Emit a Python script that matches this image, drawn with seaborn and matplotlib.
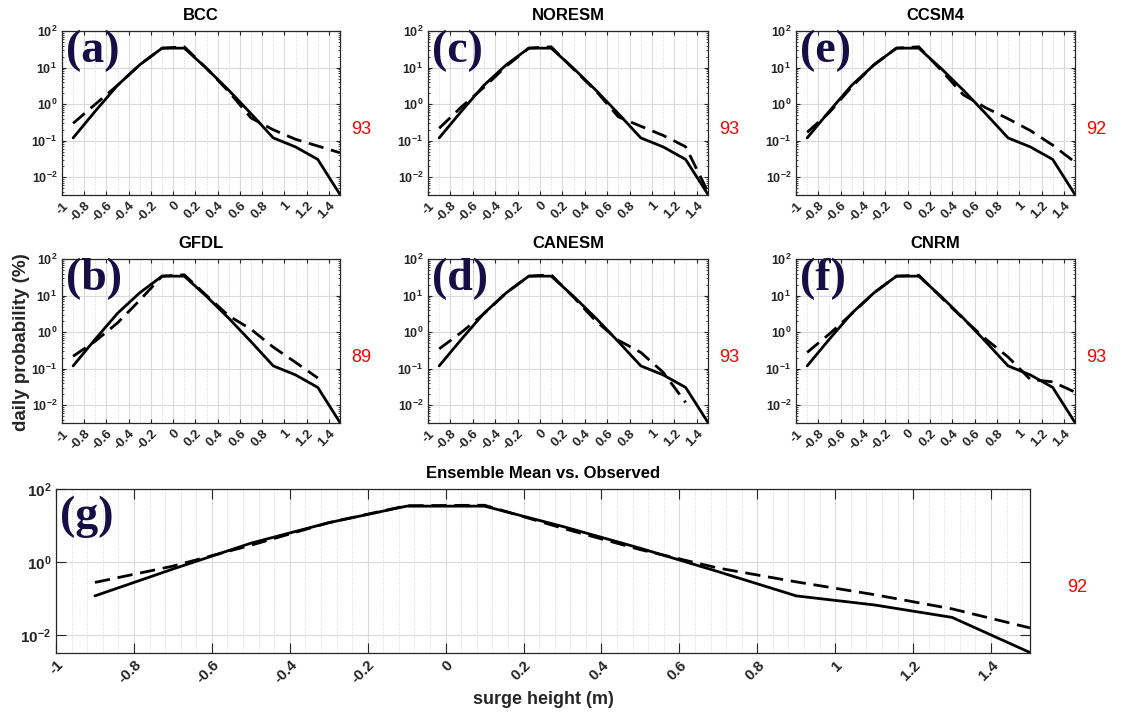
import numpy as np
import pandas as pd
import matplotlib
matplotlib.use("Agg")
import matplotlib.pyplot as plt
import seaborn as sns
from matplotlib.ticker import FixedLocator, MultipleLocator, LogLocator, NullFormatter

# ---------------- data ----------------
surge = [-0.9, -0.7, -0.5, -0.3, -0.1, 0.1, 0.3, 0.5, 0.7, 0.9, 1.1, 1.3, 1.5]
observed = [0.12, 0.65, 3.3, 12, 34, 34, 9.5, 2.4, 0.55, 0.12, 0.068, 0.031, 0.0034]
bcc = [0.30, 1.0, 3.3, 12, 34, 37, 9.5, 2.2, 0.42, 0.20, 0.11, 0.072, 0.047]
gfdl = [0.22, 0.57, 1.8, 7.5, 34, 37, 10, 2.8, 1.2, 0.39, 0.15, 0.056, np.nan]
noresm = [0.22, 0.85, 2.9, 11, 34, 37, 9.0, 2.3, 0.45, 0.25, 0.14, 0.069, 0.004]
canesm = [0.35, 1.0, 3.2, 12, 34, 37, 9.0, 2.0, 0.6, 0.28, 0.08, 0.012, np.nan]
ccsm4 = [0.17, 0.6, 3.0, 12, 34, 37, 8.5, 1.8, 0.8, 0.40, 0.19, 0.076, 0.026]
cnrm = [0.28, 0.9, 3.2, 12, 34, 36, 9.0, 2.3, 0.65, 0.21, 0.051, 0.044, 0.023]
ensemble = [0.28, 0.78, 2.9, 12, 35, 36, 8.5, 2.2, 0.69, 0.29, 0.13, 0.053, 0.016]

panel_titles = ["BCC", "GFDL", "NORESM", "CANESM", "CCSM4", "CNRM"]
panel_letters = ["(a)", "(b)", "(c)", "(d)", "(e)", "(f)"]
panel_models = [bcc, gfdl, noresm, canesm, ccsm4, cnrm]
panel_scores = ["93", "89", "93", "93", "92", "93"]
ens_title = "Ensemble Mean vs. Observed"
ens_letter = "(g)"
ens_score = "92"

x_ticks = [-1, -0.8, -0.6, -0.4, -0.2, 0, 0.2, 0.4, 0.6, 0.8, 1, 1.2, 1.4]
x_ticklabels = ["-1", "-0.8", "-0.6", "-0.4", "-0.2", "0", "0.2", "0.4", "0.6", "0.8", "1", "1.2", "1.4"]
y_ticks_small = [1e-2, 1e-1, 1e0, 1e1, 1e2]
y_ticklabels_small = [r"$\mathbf{10^{-2}}$", r"$\mathbf{10^{-1}}$", r"$\mathbf{10^{0}}$",
                      r"$\mathbf{10^{1}}$", r"$\mathbf{10^{2}}$"]
y_ticks_big = [1e-2, 1e0, 1e2]
y_ticklabels_big = [r"$\mathbf{10^{-2}}$", r"$\mathbf{10^{0}}$", r"$\mathbf{10^{2}}$"]

# ---------------- style ----------------
sns.set_style("ticks")
plt.rcParams["font.family"] = ["Liberation Sans", "DejaVu Sans"]
plt.rcParams["mathtext.fontset"] = "custom"
plt.rcParams["mathtext.rm"] = "Liberation Sans"
plt.rcParams["mathtext.bf"] = "Liberation Sans:bold"
plt.rcParams["mathtext.it"] = "Liberation Sans:italic"

FG = "#262626"
NAVY = "#150f45"

fig = plt.figure(figsize=(11.43, 7.17), dpi=100)

W, H = 1143.0, 717.0
col_left = [62, 428, 796]
col_width = [278, 280, 279]
row_top = [31, 259]
ax_h = 164


def style_axes(ax, big=False):
    ax.set_yscale("log")
    ax.set_xlim(-1, 1.5)
    ax.set_ylim(0.0033, 100)
    for s in ax.spines.values():
        s.set_color(FG)
        s.set_linewidth(0.9)
    ax.xaxis.set_major_locator(FixedLocator(x_ticks))
    ax.set_xticklabels(x_ticklabels)
    ax.xaxis.set_minor_locator(MultipleLocator(0.04 if big else 0.1))
    if big:
        ax.yaxis.set_major_locator(FixedLocator(y_ticks_big))
        ax.set_yticklabels(y_ticklabels_big)
        ax.yaxis.set_minor_locator(FixedLocator([]))
        fsy, fsx = 11, 11
        tl = 7
    else:
        ax.yaxis.set_major_locator(FixedLocator(y_ticks_small))
        ax.set_yticklabels(y_ticklabels_small)
        ax.yaxis.set_minor_locator(LogLocator(base=10, subs=np.arange(2, 10)))
        ax.yaxis.set_minor_formatter(NullFormatter())
        fsy, fsx = 9, 9.5
        tl = 3
    ax.tick_params(which="major", direction="in", top=True, right=True, length=tl,
                   width=0.8, color=FG, labelcolor=FG)
    ax.tick_params(axis="y", which="major", labelsize=fsy)
    ax.tick_params(axis="x", which="major", labelsize=fsx)
    ax.tick_params(which="minor", direction="in", top=False, right=True, length=tl * 0.5,
                   width=0.6, color=FG)
    ax.tick_params(axis="x", which="minor", length=0)
    for lab in ax.get_xticklabels():
        lab.set_rotation(45)
        lab.set_ha("right")
        lab.set_va("top")
        lab.set_rotation_mode("anchor")
        lab.set_fontweight("bold")
    ax.grid(True, which="major", axis="both", color="#dadada", lw=0.8, ls="-")
    ax.grid(True, which="minor", axis="x", color="#d6d6d6", lw=0.7, ls=":")
    ax.set_axisbelow(True)
    ax.set_xlabel("")
    ax.set_ylabel("")


def draw_lines(ax, model):
    df_obs = pd.DataFrame({"surge": surge, "prob": observed})
    df_mod = pd.DataFrame({"surge": surge, "prob": model}).dropna()
    sns.lineplot(data=df_obs, x="surge", y="prob", ax=ax, color="black", lw=2.0,
                 estimator=None, sort=True)
    sns.lineplot(data=df_mod, x="surge", y="prob", ax=ax, color="black", lw=2.0,
                 estimator=None, sort=True)
    ax.lines[-1].set_linestyle((0, (5.5, 2.8)))


order = [(0, 0), (1, 0), (0, 1), (1, 1), (0, 2), (1, 2)]  # (row, col) for a..f
for i, (r, c) in enumerate(order):
    left = col_left[c] / W
    bottom = 1 - (row_top[r] + ax_h) / H
    ax = fig.add_axes([left, bottom, col_width[c] / W, ax_h / H])
    draw_lines(ax, panel_models[i])
    style_axes(ax, big=False)
    ax.set_title(panel_titles[i], fontsize=12, fontweight="bold", color="black", pad=8)
    ax.text(0.015, 1.01, panel_letters[i], transform=ax.transAxes, ha="left", va="top",
            fontsize=33, fontweight="bold", color=NAVY, family="Liberation Serif")
    ax.text(1.04, 0.40, panel_scores[i], transform=ax.transAxes, ha="left", va="center",
            fontsize=13, color="red")

# ensemble panel
axg = fig.add_axes([56 / W, 1 - 653 / H, 974 / W, 164 / H])
draw_lines(axg, ensemble)
style_axes(axg, big=True)
axg.set_title(ens_title, fontsize=12, fontweight="bold", color="black", pad=8)
axg.text(0.004, 0.96, ens_letter, transform=axg.transAxes, ha="left", va="top",
         fontsize=33, fontweight="bold", color=NAVY, family="Liberation Serif")
axg.text(1.038, 0.40, ens_score, transform=axg.transAxes, ha="left", va="center",
         fontsize=13, color="red")

fig.text(22 / W, 1 - 342 / H, "daily probability (%)", rotation=90, ha="center",
         va="center", fontsize=13.5, fontweight="bold", color=FG)
fig.text(543 / W, 1 - 700 / H, "surge height (m)", ha="center", va="center",
         fontsize=13, fontweight="bold", color=FG)

fig.savefig("out.png", dpi=100)
